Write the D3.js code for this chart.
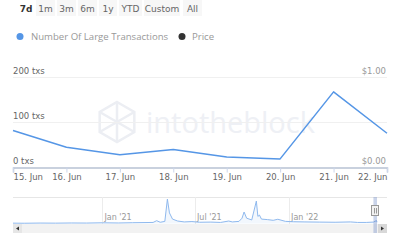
<!DOCTYPE html>
<html>
<head>
<meta charset="utf-8">
<script src="https://cdn.jsdelivr.net/npm/d3@7"></script>
<style>
  body { margin: 0; background: #fff; }
  svg { display: block; font-family: "DejaVu Sans", sans-serif; }
</style>
</head>
<body>
<div id="chart"></div>
<script>
// data
let days = ["2022-06-15", "2022-06-16", "2022-06-17", "2022-06-18", "2022-06-19", "2022-06-20", "2022-06-21", "2022-06-22"];
let largeTx = [81, 44, 27, 39, 22, 18, 167, 75];
let yTicks = [0, 100, 200];
let priceTicks = [0, 1];
let buttons = ["7d", "1m", "3m", "6m", "1y", "YTD", "Custom", "All"];

// navigator (full history)
let navDates = ["2020-07-10", "2020-08-01", "2020-09-01", "2020-10-01", "2020-11-01", "2020-12-01",
  "2021-01-01", "2021-02-01", "2021-03-01", "2021-04-10", "2021-04-17", "2021-04-24", "2021-05-03",
  "2021-05-08", "2021-05-12", "2021-05-18", "2021-05-28", "2021-06-10", "2021-06-25", "2021-07-10",
  "2021-08-01", "2021-08-20", "2021-09-05", "2021-09-12", "2021-09-25", "2021-10-01", "2021-10-05",
  "2021-10-10", "2021-10-20", "2021-10-29", "2021-11-01", "2021-11-04", "2021-11-08", "2021-11-20",
  "2021-12-01", "2021-12-10", "2021-12-25", "2022-01-10", "2022-02-01", "2022-03-01", "2022-04-01",
  "2022-05-01", "2022-05-15", "2022-06-01", "2022-06-15", "2022-06-21", "2022-06-22"];
let navValues = [20, 15, 25, 20, 30, 25, 40, 30, 45, 60, 160, 70, 120, 1380, 600, 250, 140, 90, 110, 70,
  80, 60, 140, 90, 120, 300, 650, 300, 200, 1270, 400, 480, 250, 220, 180, 240, 120, 100, 90, 80, 70,
  90, 60, 60, 80, 167, 75];
let navTicks = ["2021-01-01", "2021-07-01", "2022-01-01"];

let W = 400, H = 240;
let parse = d3.timeParse("%Y-%m-%d");
let blue = "#5596e6";

let svg = d3.select("#chart").append("svg")
    .attr("width", W)
    .attr("height", H);

// range selector buttons
let bx = [17, 36, 57, 78, 99, 119, 144, 183];
let bw = [18, 19, 19, 19, 18, 23, 36, 19];
buttons.forEach(function (b, i) {
    if (i > 0) {
        svg.append("rect")
            .attr("x", bx[i]).attr("y", 0)
            .attr("width", bw[i]).attr("height", 16)
            .attr("fill", "#f7f7f7");
    }
    svg.append("text")
        .attr("x", bx[i] + bw[i] / 2).attr("y", 11.5)
        .attr("text-anchor", "middle")
        .attr("font-size", 9)
        .attr("font-weight", i == 0 ? "bold" : "normal")
        .attr("fill", i == 0 ? "#333" : "#666")
        .text(b);
});

// legend
svg.append("circle").attr("cx", 20).attr("cy", 36.5).attr("r", 3.5).attr("fill", blue);
svg.append("text").attr("x", 31).attr("y", 40).attr("font-size", 9.6)
    .attr("font-family", "Open Sans, sans-serif").attr("fill", "#999")
    .text("Number Of Large Transactions");
svg.append("circle").attr("cx", 182).attr("cy", 36.5).attr("r", 3.5).attr("fill", "#333");
svg.append("text").attr("x", 192).attr("y", 40).attr("font-size", 9.6)
    .attr("font-family", "Open Sans, sans-serif").attr("fill", "#999")
    .text("Price");

// main chart scales
let x = d3.scaleTime()
    .domain([parse(days[0]), parse(days[days.length - 1])])
    .range([13, 387]);
let y = d3.scaleLinear().domain([0, 200]).range([167, 77]);
let yPrice = d3.scaleLinear().domain([0, 1]).range([167, 77]);

// watermark
let wm = svg.append("g").attr("fill", "none").attr("stroke", "#eceef3").attr("stroke-width", 2.5);
let hx = 117, hy = 122, hr = 20;
let hex = d3.range(6).map(function (i) {
    let a = Math.PI / 3 * i - Math.PI / 2;
    return [hx + hr * Math.cos(a), hy + hr * Math.sin(a)];
});
wm.append("path").attr("d", "M" + hex.join("L") + "Z");
wm.append("path").attr("d", "M" + hex[5] + "L" + hex[2] + "M" + hex[1] + "L" + hex[4] + "M" + hex[0] + "L" + [hx, hy] + "L" + hex[3]);
svg.append("text")
    .attr("x", 146).attr("y", 133)
    .attr("font-family", "Open Sans, sans-serif")
    .attr("font-size", 29)
    .attr("fill", "#eef0f5")
    .text("intotheblock");

// gridlines
svg.append("g")
    .selectAll("line")
    .data(yTicks.slice(1))
    .join("line")
    .attr("x1", 13).attr("x2", 387)
    .attr("y1", function (d) { return y(d) + 0.5; })
    .attr("y2", function (d) { return y(d) + 0.5; })
    .attr("stroke", "#f0f0f0");

svg.append("g")
    .selectAll("text")
    .data(yTicks)
    .join("text")
    .attr("x", 13)
    .attr("y", function (d) { return y(d) - 3; })
    .attr("font-size", 8.5)
    .attr("fill", "#666")
    .text(function (d) { return d + " txs"; });

svg.append("g")
    .selectAll("text")
    .data(priceTicks)
    .join("text")
    .attr("x", 386)
    .attr("y", function (d) { return yPrice(d) - 3; })
    .attr("text-anchor", "end")
    .attr("font-size", 8.5)
    .attr("fill", "#999")
    .text(function (d) { return "$" + d.toFixed(2); });

// x axis
let xAxis = svg.append("g")
    .attr("transform", "translate(0,167.5)")
    .call(d3.axisBottom(x)
        .tickValues(days.map(parse))
        .tickSize(5)
        .tickFormat(d3.timeFormat("%d. %b")));
xAxis.select(".domain").attr("stroke", "#b8c2d3").attr("stroke-width", 1.5);
xAxis.selectAll(".tick line").attr("stroke", "#ccd6eb");
xAxis.selectAll(".tick text")
    .attr("font-family", "DejaVu Sans, sans-serif")
    .attr("font-size", 8.5)
    .attr("fill", "#666")
    .attr("dy", "0.55em")
    .attr("text-anchor", function (d, i) { return i == 0 ? "start" : (i == days.length - 1 ? "end" : "middle"); });

// series line
svg.append("path")
    .datum(largeTx)
    .attr("fill", "none")
    .attr("stroke", blue)
    .attr("stroke-width", 1.5)
    .attr("stroke-linejoin", "round")
    .attr("d", d3.line()
        .x(function (d, i) { return x(parse(days[i])); })
        .y(function (d) { return y(d); }));

// navigator
let nx = d3.scaleTime()
    .domain([parse(navDates[0]), parse(navDates[navDates.length - 1])])
    .range([13, 377]);
let ny = d3.scaleLinear().domain([0, 1500]).range([223.5, 197]);

svg.append("line")
    .attr("x1", 13).attr("x2", 387)
    .attr("y1", 197.5).attr("y2", 197.5)
    .attr("stroke", "#e6e6e6");

svg.append("g")
    .selectAll("line")
    .data(navTicks)
    .join("line")
    .attr("x1", function (d) { return Math.round(nx(parse(d))) + 0.5; })
    .attr("x2", function (d) { return Math.round(nx(parse(d))) + 0.5; })
    .attr("y1", 197).attr("y2", 224)
    .attr("stroke", "#ececec");

svg.append("g")
    .selectAll("text")
    .data(navTicks)
    .join("text")
    .attr("x", function (d) { return nx(parse(d)) + 2; })
    .attr("y", 220)
    .attr("font-size", 8)
    .attr("fill", "#999")
    .text(function (d) { return d3.timeFormat("%b '%y")(parse(d)); });

let navArea = d3.area()
    .x(function (d, i) { return nx(parse(navDates[i])); })
    .y0(223.5)
    .y1(function (d) { return ny(d); });
svg.append("path")
    .datum(navValues)
    .attr("fill", "rgba(85,150,230,0.08)")
    .attr("d", navArea);
svg.append("path")
    .datum(navValues)
    .attr("fill", "none")
    .attr("stroke", "#8fb9ee")
    .attr("stroke-width", 1)
    .attr("d", navArea.lineY1());

// scrollbar
svg.append("rect").attr("x", 13).attr("y", 224).attr("width", 374).attr("height", 9).attr("fill", "#f2f2f2");
svg.append("rect").attr("x", 13).attr("y", 224).attr("width", 9).attr("height", 9).attr("fill", "#e6e6e6");
svg.append("rect").attr("x", 378).attr("y", 224).attr("width", 9).attr("height", 9).attr("fill", "#d8d8d8");
svg.append("path").attr("d", "M19,226.5L16,228.5L19,230.5Z").attr("fill", "#333");
svg.append("path").attr("d", "M381,226.5L384,228.5L381,230.5Z").attr("fill", "#333");

// selected range mask
let selStart = nx(parse(days[0])), selEnd = nx(parse(days[days.length - 1]));
svg.append("rect")
    .attr("x", selStart).attr("y", 197)
    .attr("width", selEnd - selStart).attr("height", 36)
    .attr("fill", "rgba(102,133,194,0.35)");

// handle
svg.append("rect")
    .attr("x", 371.5).attr("y", 205.5)
    .attr("width", 7).attr("height", 10)
    .attr("fill", "#f2f2f2").attr("stroke", "#999");
svg.append("path")
    .attr("d", "M374.5,208V213.5M376.5,208V213.5")
    .attr("stroke", "#999");
</script>
</body>
</html>
